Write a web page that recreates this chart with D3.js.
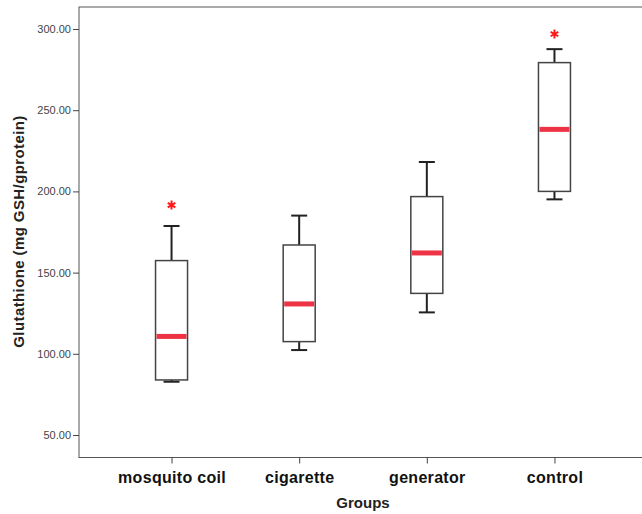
<!DOCTYPE html>
<html><head><meta charset="utf-8">
<script src="https://cdn.jsdelivr.net/npm/d3@7"></script>
<style>body{margin:0;background:#fff;}svg{display:block;}</style>
</head><body>
<svg id="c" width="642" height="514"></svg>
<script>
const categories = ["mosquito coil", "cigarette", "generator", "control"];
const whiskerLow  = [82.8, 102.3, 125.5, 195.1];
const q1          = [83.9, 107.5, 137.2, 200.0];
const medians     = [110.7, 130.7, 162.1, 238.2];
const q3          = [157.4, 167.0, 196.8, 279.3];
const whiskerHigh = [178.7, 185.1, 218.1, 287.6];
const outliers    = [[191.6], [], [], [296.9]];
const yTicks      = [50, 100, 150, 200, 250, 300];

const svg = d3.select("#c");
const FONT = "Liberation Sans, Arial, sans-serif";
const L = 79, R = 647, T = 7, B = 457.5;
const x = d3.scalePoint().domain(categories).range([L, R]).padding(0.725);
const y = d3.scaleLinear().domain([50, 300]).range([435, 29]);

// frame
svg.append("rect").attr("x", L).attr("y", T).attr("width", R - L).attr("height", B - T)
  .attr("fill", "none").attr("stroke", "#555").attr("stroke-width", 1);

// y axis
const yAxis = svg.append("g").attr("transform", `translate(${L},0)`)
  .call(d3.axisLeft(y).tickValues(yTicks).tickSize(6).tickPadding(2).tickFormat(d3.format(".2f")));
yAxis.select(".domain").remove();
yAxis.selectAll("line").attr("stroke", "#444");
yAxis.selectAll("text").attr("font-family", FONT).attr("font-size", 11).attr("fill", "#444");

// x axis
const xAxis = svg.append("g").attr("transform", `translate(0,${B})`)
  .call(d3.axisBottom(x).tickSize(6).tickPadding(8));
xAxis.select(".domain").remove();
xAxis.selectAll("line").attr("stroke", "#444");
xAxis.selectAll("text").attr("font-family", FONT).attr("font-size", 16)
  .attr("font-weight", "bold").attr("fill", "#111").attr("letter-spacing", 0.3);

const bw = 32, cw = 16;
const g = svg.append("g");
categories.forEach((c, i) => {
  const cx = x(c);
  g.append("line").attr("x1", cx).attr("x2", cx).attr("y1", y(q3[i])).attr("y2", y(whiskerHigh[i])).attr("stroke", "#222").attr("stroke-width", 2);
  g.append("line").attr("x1", cx).attr("x2", cx).attr("y1", y(q1[i])).attr("y2", y(whiskerLow[i])).attr("stroke", "#222").attr("stroke-width", 2);
  g.append("line").attr("x1", cx - cw/2).attr("x2", cx + cw/2).attr("y1", y(whiskerHigh[i])).attr("y2", y(whiskerHigh[i])).attr("stroke", "#222").attr("stroke-width", 2);
  g.append("line").attr("x1", cx - cw/2).attr("x2", cx + cw/2).attr("y1", y(whiskerLow[i])).attr("y2", y(whiskerLow[i])).attr("stroke", "#222").attr("stroke-width", 2);
  g.append("rect").attr("x", cx - bw/2).attr("y", y(q3[i])).attr("width", bw).attr("height", y(q1[i]) - y(q3[i]))
    .attr("fill", "#fff").attr("stroke", "#444").attr("stroke-width", 1.5);
  g.append("line").attr("x1", cx - bw/2 + 1).attr("x2", cx + bw/2 - 1).attr("y1", y(medians[i])).attr("y2", y(medians[i]))
    .attr("stroke", "#ee3344").attr("stroke-width", 5);
  outliers[i].forEach(v => {
    g.append("path").attr("transform", `translate(${cx},${y(v)})`)
      .attr("d", d3.symbol(d3.symbolAsterisk, 55)())
      .attr("fill", "none").attr("stroke", "#ff1a1a").attr("stroke-width", 2);
  });
});

// axis titles
svg.append("text").attr("x", (L + R) / 2).attr("y", 508).attr("text-anchor", "middle")
  .attr("font-family", FONT).attr("font-size", 15).attr("font-weight", "bold").attr("fill", "#222").text("Groups");
svg.append("text").attr("transform", "translate(24,231.5) rotate(-90)").attr("text-anchor", "middle")
  .attr("font-family", FONT).attr("font-size", 15).attr("font-weight", "bold").attr("fill", "#222")
  .attr("letter-spacing", 0.4)
  .text("Glutathione (mg GSH/gprotein)");
</script>
</body></html>
